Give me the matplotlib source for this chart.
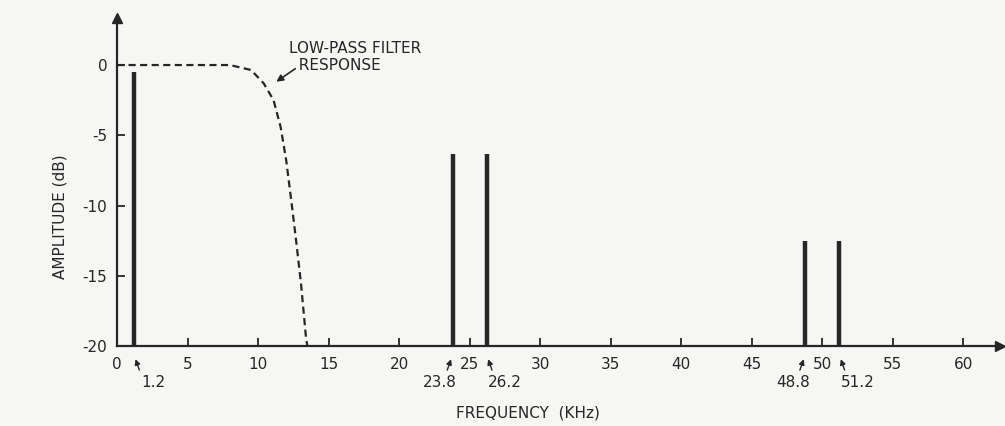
import matplotlib
matplotlib.use("Agg")
import matplotlib.pyplot as plt

# ---- data ----
line_freqs = [1.2, 23.8, 26.2, 48.8, 51.2]          # kHz
line_amps = [-0.5, -6.3, -6.3, -12.5, -12.5]        # dB
line_labels = ["1.2", "23.8", "26.2", "48.8", "51.2"]
label_side = ["right", "left", "right", "left", "right"]

filter_freq = [0.0, 8.0, 9.5, 10.4, 11.1, 11.6, 12.0, 12.35, 12.7, 13.05, 13.4, 13.5]
filter_amp = [0.0, 0.0, -0.35, -1.3, -2.5, -4.4, -6.8, -9.6, -12.5, -15.6, -19.4, -20.0]

x_ticks = [0, 5, 10, 15, 20, 25, 30, 35, 40, 45, 50, 55, 60]
y_ticks = [0, -5, -10, -15, -20]

ink = "#262626"
bg = "#f6f6f4"

plt.rcParams["axes.unicode_minus"] = False
plt.rcParams["font.family"] = ["DejaVu Sans"]

fig = plt.figure(figsize=(10.05, 4.26), dpi=100, facecolor=bg)
ax = fig.add_axes([0.1164, 0.1878, 0.8786, 0.77], facecolor=bg)
ax.set_xlim(0, 62.6)
ax.set_ylim(-20, 3.35)

for s in ("top", "right"):
    ax.spines[s].set_visible(False)
for s in ("left", "bottom"):
    ax.spines[s].set_linewidth(1.6)
    ax.spines[s].set_color(ink)

# axis arrow heads
ax.plot([1], [0], marker=">", ms=7, color=ink, transform=ax.transAxes, clip_on=False)
ax.plot([0], [1], marker="^", ms=7, color=ink, transform=ax.transAxes, clip_on=False)

ax.set_xticks(x_ticks)
ax.set_xticklabels([str(t) for t in x_ticks])
ax.set_yticks(y_ticks)
ax.set_yticklabels([str(t) for t in y_ticks])
ax.tick_params(axis="both", direction="in", length=6, width=1.3, colors=ink,
               labelsize=11, pad=7)
ax.tick_params(axis="x", pad=8)

# spectral lines
ax.vlines(line_freqs, -20.3, line_amps, colors=ink, linewidth=3.2, zorder=3)

# filter response
ax.plot(filter_freq, filter_amp, color=ink, linewidth=1.6, dashes=(3.2, 2.0), zorder=2)

# annotation for filter
ax.annotate("", xy=(11.13, -1.3), xytext=(12.8, -0.15),
            arrowprops=dict(arrowstyle="-|>", color=ink, lw=1.2, mutation_scale=10))
ax.text(12.2, 0.55, "LOW-PASS FILTER\n  RESPONSE", fontsize=11, color=ink,
        ha="left", va="center", linespacing=1.15)

# frequency labels under the axis with little arrows
for f, lab, side in zip(line_freqs, line_labels, label_side):
    sgn = 1 if side == "right" else -1
    ax.annotate("", xy=(f + 0.05 * sgn, -20.75), xytext=(f + 0.45 * sgn, -21.9),
                arrowprops=dict(arrowstyle="-|>", color=ink, lw=1.0, mutation_scale=8),
                annotation_clip=False)
    ax.text(f + (1.3 if side == "right" else -0.9) + (0.05 if f < 5 else 0), -22.6, lab,
            fontsize=11, color=ink, ha="center", va="center", clip_on=False)

ax.set_xlabel("FREQUENCY  (KHz)", fontsize=11, color=ink)
ax.xaxis.set_label_coords(0.465, -0.18)
ax.set_ylabel("AMPLITUDE (dB)", fontsize=11, color=ink)
ax.yaxis.set_label_coords(-0.056, 0.393)

fig.savefig("out.png", dpi=100, facecolor=bg)
